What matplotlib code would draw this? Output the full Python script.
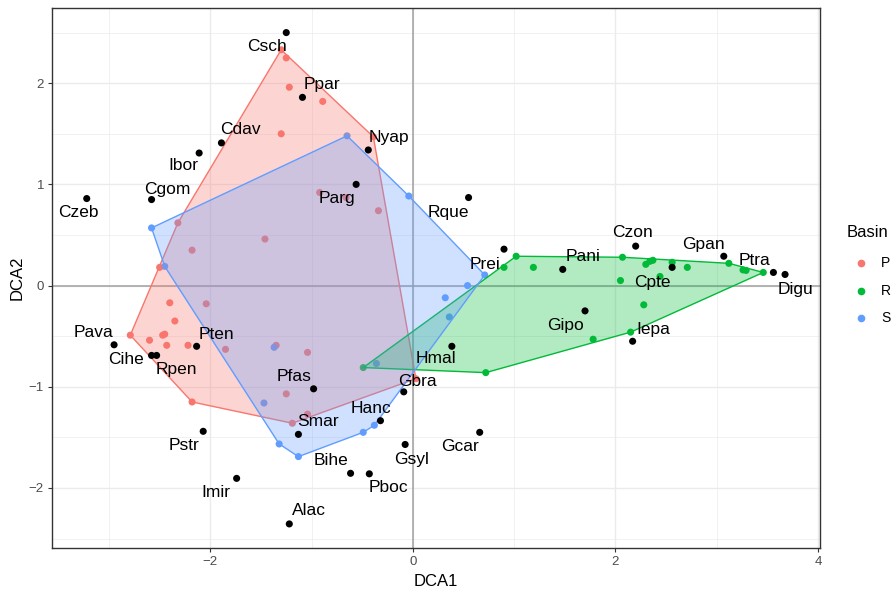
import numpy as np
import matplotlib
matplotlib.use("Agg")
import matplotlib.pyplot as plt
from matplotlib.lines import Line2D

plt.rcParams['font.family'] = ['Liberation Sans', 'DejaVu Sans']

# site scores, grouped by basin
p_x = [-1.30, -1.25, -1.22, -0.89, -1.30, -0.39, -0.92, -0.66, -0.34, -2.32,
       -2.18, -1.46, -2.50, -2.79, -2.40, -2.35, -2.60, -2.47, -2.45, -2.43,
       -2.22, -2.04, -1.85, -2.18, -1.35, -1.04, -1.25, -1.04, -1.19, 0.03]
p_y = [2.33, 2.25, 1.96, 1.82, 1.50, 1.47, 0.92, 0.87, 0.74, 0.62,
       0.35, 0.46, 0.18, -0.49, -0.17, -0.35, -0.54, -0.49, -0.48, -0.59,
       -0.59, -0.18, -0.63, -1.15, -0.59, -0.66, -1.07, -1.27, -1.36, -0.92]

r_x = [-0.49, 0.90, 1.02, 1.19, 2.07, 2.30, 2.34, 2.37, 2.56, 2.71,
       3.12, 3.26, 3.29, 3.46, 2.05, 2.44, 2.28, 2.15, 1.78, 0.72]
r_y = [-0.81, 0.18, 0.29, 0.18, 0.28, 0.21, 0.24, 0.25, 0.23, 0.18,
       0.22, 0.155, 0.15, 0.13, 0.05, 0.09, -0.19, -0.46, -0.53, -0.86]

s_x = [-2.58, -0.65, -0.04, -2.45, 0.71, 0.54, 0.32, 0.36, -1.37, -1.47,
       -1.32, -1.13, -0.49, -0.38, -0.36]
s_y = [0.57, 1.48, 0.885, 0.19, 0.105, 0.00, -0.12, -0.31, -0.61, -1.16,
       -1.565, -1.69, -1.45, -1.38, -0.77]

# species scores and where their labels sit
sp_names = ['Csch', 'Ppar', 'Cdav', 'Ibor', 'Cgom', 'Czeb', 'Nyap', 'Parg',
            'Rque', 'Prei', 'Pani', 'Czon', 'Gpan', 'Cpte', 'Ptra', 'Digu',
            'Gipo', 'Iepa', 'Hmal', 'Gbra', 'Pava', 'Cihe', 'Rpen', 'Pten',
            'Pfas', 'Smar', 'Hanc', 'Pstr', 'Bihe', 'Pboc', 'Gsyl', 'Imir',
            'Alac', 'Gcar']
sp_x = [-1.25, -1.09, -1.89, -2.11, -2.58, -3.22, -0.44, -0.56,
        0.55, 0.90, 1.48, 2.20, 3.07, 2.56, 3.56, 3.675,
        1.70, 2.17, 0.385, -0.09, -2.95, -2.58, -2.53, -2.135,
        -0.98, -1.13, -0.32, -2.07, -0.615, -0.43, -0.076, -1.74,
        -1.22, 0.66]
sp_y = [2.50, 1.86, 1.41, 1.31, 0.85, 0.86, 1.34, 1.00,
        0.87, 0.36, 0.16, 0.39, 0.29, 0.18, 0.13, 0.11,
        -0.25, -0.55, -0.60, -1.05, -0.585, -0.69, -0.69, -0.60,
        -1.02, -1.47, -1.335, -1.44, -1.855, -1.86, -1.57, -1.905,
        -2.355, -1.45]
lab_x = [-1.44, -0.90, -1.70, -2.27, -2.42, -3.30, -0.24, -0.75,
         0.35, 0.71, 1.68, 2.17, 2.87, 2.36, 3.37, 3.78,
         1.51, 2.37, 0.23, 0.05, -3.15, -2.83, -2.33, -1.94,
         -1.17, -0.94, -0.41, -2.26, -0.81, -0.24, -0.01, -1.94,
         -1.03, 0.47]
lab_y = [2.36, 1.99, 1.54, 1.19, 0.95, 0.72, 1.46, 0.86,
         0.72, 0.21, 0.29, 0.52, 0.41, 0.03, 0.25, -0.04,
         -0.39, -0.43, -0.72, -0.95, -0.46, -0.73, -0.83, -0.48,
         -0.90, -1.34, -1.21, -1.58, -1.73, -2.00, -1.72, -2.04,
         -2.22, -1.59]

basins = ['P', 'R', 'S']
cols = {'P': '#F8766D', 'R': '#00BA38', 'S': '#619CFF'}
groups = {'P': (p_x, p_y), 'R': (r_x, r_y), 'S': (s_x, s_y)}


def hull(xs, ys):
    # monotone chain convex hull
    pts = sorted(set(zip(xs, ys)))
    def cross(o, a, b):
        return (a[0]-o[0])*(b[1]-o[1]) - (a[1]-o[1])*(b[0]-o[0])
    lower, upper = [], []
    for p in pts:
        while len(lower) >= 2 and cross(lower[-2], lower[-1], p) <= 0:
            lower.pop()
        lower.append(p)
    for p in reversed(pts):
        while len(upper) >= 2 and cross(upper[-2], upper[-1], p) <= 0:
            upper.pop()
        upper.append(p)
    return np.array(lower[:-1] + upper[:-1])


fig = plt.figure(figsize=(8.91, 5.91), dpi=100)
ax = fig.add_axes([52.3/891, 1-547.7/591, (820-52.3)/891, (547.7-8.3)/591])

ax.set_xlim(-3.56, 4.02)
ax.set_ylim(-2.59, 2.74)
ax.set_xticks([-2, 0, 2, 4])
ax.set_yticks([-2, -1, 0, 1, 2])
ax.set_xticks([-3, -1, 1, 3], minor=True)
ax.set_yticks([-2.5, -1.5, -0.5, 0.5, 1.5, 2.5], minor=True)
ax.grid(True, which='major', color='#EBEBEB', lw=1.0, zorder=0)
ax.grid(True, which='minor', color='#EBEBEB', lw=0.5, zorder=0)
ax.set_axisbelow(True)
ax.tick_params(which='minor', length=0)
ax.tick_params(which='major', length=3, width=0.8, color='#333333',
               labelcolor='#4D4D4D', labelsize=9.5, pad=3)
for sp in ax.spines.values():
    sp.set_color('#333333')
    sp.set_linewidth(1.0)

ax.axhline(0, color='#A0A0A0', lw=1.1, zorder=1)
ax.axvline(0, color='#A0A0A0', lw=1.1, zorder=1)

# site points go under the hulls
for b in basins:
    x, y = groups[b]
    ax.scatter(x, y, s=26, color=cols[b], edgecolors='none', zorder=2)

for b in basins:
    x, y = groups[b]
    h = hull(x, y)
    ax.fill(h[:, 0], h[:, 1], facecolor=cols[b], alpha=0.3, edgecolor='none', zorder=3)
    ax.plot(np.append(h[:, 0], h[0, 0]), np.append(h[:, 1], h[0, 1]),
            color=cols[b], lw=1.0, zorder=3)

ax.scatter(sp_x, sp_y, s=26, color='black', edgecolors='none', zorder=4)
for n, lx, ly in zip(sp_names, lab_x, lab_y):
    ax.text(lx, ly, n, fontsize=12.5, ha='center', va='center', zorder=5)

ax.set_xlabel('DCA1', fontsize=12, labelpad=4)
ax.set_ylabel('DCA2', fontsize=12, labelpad=3)

# legend, cut off by the right edge as in the original
fig.text(847/891, 1-232.7/591, 'Basin', fontsize=12, va='center', ha='left')
for b, yy in zip(basins, [263.3, 290.7, 318.3]):
    fig.add_artist(Line2D([860.7/891], [1-yy/591], marker='o', ms=5.5,
                          color=cols[b], mec='none', ls='none',
                          transform=fig.transFigure))
    fig.text(881/891, 1-yy/591, b, fontsize=10, va='center', ha='left')

fig.savefig('out.png', dpi=100)
